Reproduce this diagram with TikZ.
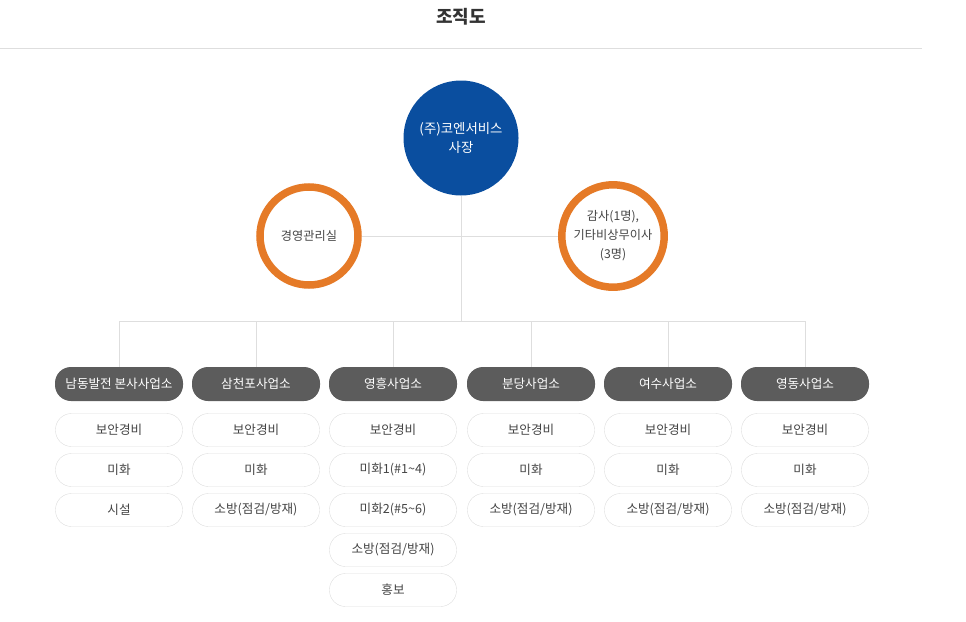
\documentclass[tikz,border=0pt]{standalone}
\usepackage{fontspec}
\setmainfont{Noto Sans CJK KR}
\usetikzlibrary{positioning}
\definecolor{ceoblue}{HTML}{0A4E9F}
\definecolor{ringorange}{HTML}{E57A27}
\definecolor{sitegray}{HTML}{5C5C5C}
\definecolor{linegray}{HTML}{DEDEDE}
\definecolor{textgray}{HTML}{444444}

\begin{document}
\begin{tikzpicture}[x=1pt, y=-1pt, font=\fontsize{12.6}{19}\selectfont,
    head/.style={circle, fill=ceoblue, text=white, minimum size=115pt, align=center, font=\fontsize{13.4}{19}\selectfont},
    ring/.style={circle, draw=ringorange, line width=7.5pt, fill=white, text=textgray, minimum size=98pt, align=center, font=\fontsize{12.2}{19}\selectfont},
    site/.style={rectangle, rounded corners=16pt, fill=sitegray, text=white, minimum width=128pt, minimum height=34pt, inner sep=0pt},
    duty/.style={rectangle, rounded corners=16pt, draw=linegray, fill=white, text=textgray, minimum width=127pt, minimum height=33pt, inner sep=0pt},
    link/.style={draw=linegray, line width=1pt}]
    \useasboundingbox (0,0) rectangle (966,621);
    % title and rule
    \node[text=black!80, font=\fontsize{18}{20}\selectfont\bfseries] (T) at (461,17) {조직도};
    \draw[linegray, line width=1pt] (0,48) -- (922,48);
    % top of the chart
    \coordinate (J) at (461,321);
    \node[head] (P) at (461,138) {(주)코엔서비스\\사장};
    \draw[link] (P.south) -- (J);
    \node[ring] (L) at (309,236) {경영관리실};
    \node[ring] (R) at (613,236) {감사(1명),\\기타비상무이사\\(3명)};
    \draw[link] (L.east) -- (R.west);
    % sites and their duties
    \foreach \n/\x/\t/\L in {
        1/119/남동발전 본사사업소/{보안경비,미화,시설},
        2/256/삼천포사업소/{보안경비,미화,소방(점검/방재)},
        3/393/영흥사업소/{보안경비,미화1(\#1\textasciitilde 4),미화2(\#5\textasciitilde 6),소방(점검/방재),홍보},
        4/531/분당사업소/{보안경비,미화,소방(점검/방재)},
        5/668/여수사업소/{보안경비,미화,소방(점검/방재)},
        6/805/영동사업소/{보안경비,미화,소방(점검/방재)}} {
        \node[site] (B\n) at (\x,384) {\t};
        \draw[link] (B\n.north |- J) -- (B\n.north);
        \foreach \s [count=\k] in \L {
            \node[duty] (B\n-\k) at (\x,390+40*\k) {\s};
        }
    }
    \draw[link] (B1.north |- J) -- (B6.north |- J);
\end{tikzpicture}
\end{document}
